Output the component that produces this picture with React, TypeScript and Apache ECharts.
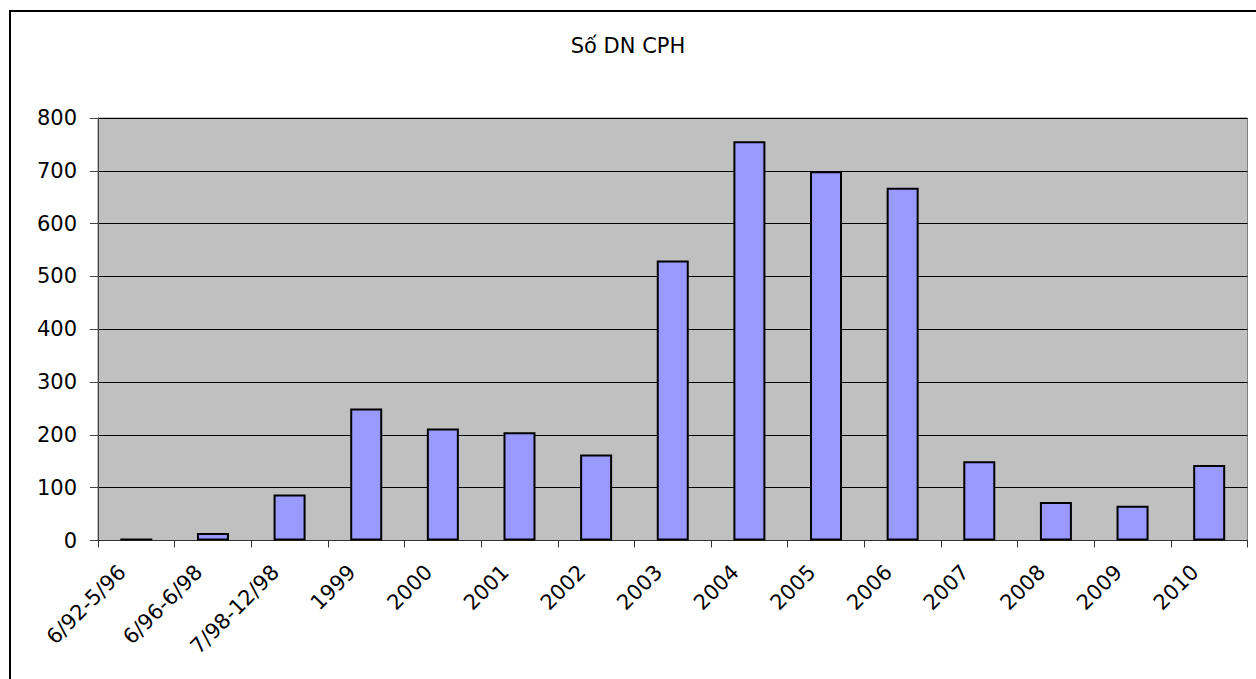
import React, { useEffect, useRef } from "react";
import * as echarts from "echarts";

const categories = [
  "6/92-5/96", "6/96-6/98", "7/98-12/98", "1999", "2000", "2001", "2002",
  "2003", "2004", "2005", "2006", "2007", "2008", "2009", "2010",
];
const values = [4, 14, 87, 250, 212, 205, 163, 530, 756, 699, 668, 150, 73, 66, 143];
const yTicks = { min: 0, max: 800, interval: 100 };
const title = "Số DN CPH";

const FONT = "DejaVu Sans";

export default function App() {
  const ref = useRef<HTMLDivElement>(null);
  useEffect(() => {
    if (!ref.current) return;
    const chart = echarts.init(ref.current, null, { renderer: "svg" });
    chart.setOption({
      animation: false,
      backgroundColor: "#ffffff",
      title: {
        text: title,
        left: "center",
        top: 30,
        textStyle: { fontFamily: FONT, fontSize: 21, fontWeight: "normal", color: "#000" },
      },
      graphic: [
        {
          type: "rect",
          shape: { x: 10, y: 11, width: 1270, height: 720 },
          style: { fill: "none", stroke: "#000", lineWidth: 2 },
          silent: true,
        },
      ],
      grid: {
        left: 98,
        top: 118,
        right: 8.5,
        bottom: 138.5,
        show: true,
        backgroundColor: "#C0C0C0",
        borderColor: "#808080",
        borderWidth: 1,
      },
      xAxis: {
        type: "category",
        data: categories,
        boundaryGap: true,
        axisLine: { show: true, lineStyle: { color: "#333", width: 1 } },
        axisTick: { show: true, length: 7, lineStyle: { color: "#333" } },
        axisLabel: {
          interval: 0,
          rotate: 45,
          margin: 14,
          padding: [0, 20, 0, 0],
          fontFamily: FONT,
          fontSize: 21,
          color: "#000",
        },
        splitLine: { show: false },
      },
      yAxis: {
        type: "value",
        min: yTicks.min,
        max: yTicks.max,
        interval: yTicks.interval,
        axisLine: { show: true, lineStyle: { color: "#444", width: 1 } },
        axisTick: { show: true, length: 8, lineStyle: { color: "#444" } },
        axisLabel: { margin: 21, fontFamily: FONT, fontSize: 21, color: "#000" },
        splitLine: { show: true, lineStyle: { color: "#000", width: 1 } },
      },
      series: [
        {
          type: "bar",
          data: values,
          barWidth: 32,
          itemStyle: { color: "#9999FF", borderColor: "#000", borderWidth: 2 },
        },
      ],
    });
    return () => chart.dispose();
  }, []);
  return (
    <div
      ref={ref}
      style={{ position: "fixed", left: 0, top: 0, width: 1256, height: 679 }}
    />
  );
}
